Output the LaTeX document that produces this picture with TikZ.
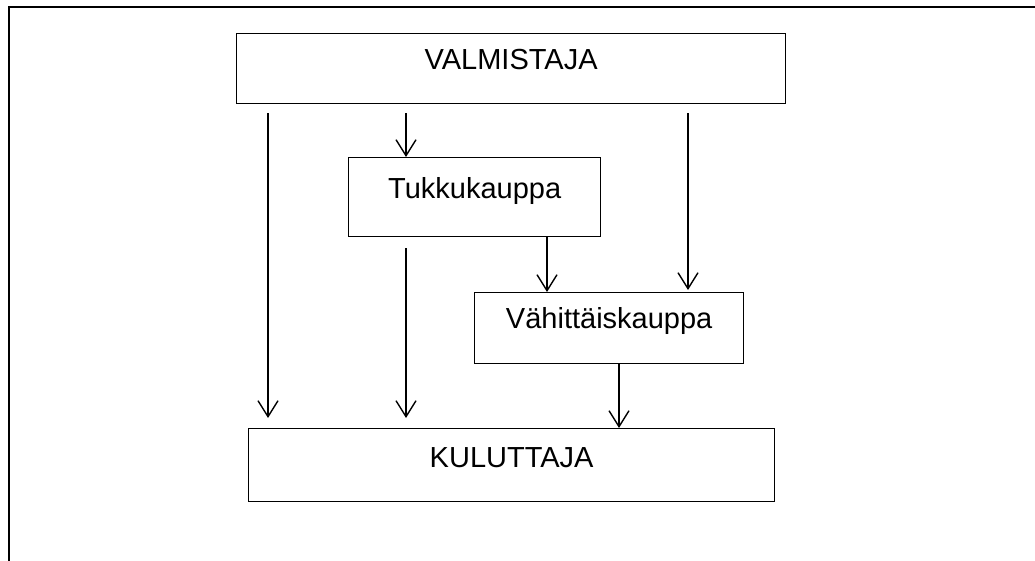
\documentclass[tikz,border=0pt]{standalone}
\usepackage{fontspec}
\setmainfont{Liberation Sans}
\usetikzlibrary{arrows.meta}
\begin{document}
\begin{tikzpicture}[x=1pt,y=-1pt,
  box/.style={draw, line width=1.3pt, inner sep=0pt, anchor=north west},
  lbl/.style={anchor=base, font=\fontsize{29}{34}\selectfont, inner sep=0pt},
  arr/.style={line width=1.4pt, -{Straight Barb[length=16pt,width=20pt,line width=1.4pt]}},
  framestyle/.style={line width=1.3pt}]
\useasboundingbox (0,0) rectangle (1035,561);
\draw[framestyle] (9,561) -- (9,7) -- (1035,7);
\node[box, minimum width=549pt, minimum height=70pt] (valm) at (236,33) {};
\node[box, minimum width=252pt, minimum height=79pt] (tukku) at (348,157) {};
\node[box, minimum width=269pt, minimum height=71pt] (vah) at (474,292) {};
\node[box, minimum width=526pt, minimum height=73pt] (kul) at (248,428) {};
\node[lbl] (tvalm) at ([yshift=-37pt]valm.north) {VALMISTAJA};
\node[lbl] (ttukku) at ([yshift=-42pt]tukku.north) {Tukkukauppa};
\node[lbl] (tvah) at ([yshift=-36pt]vah.north) {Vähittäiskauppa};
\node[lbl] (tkul) at ([yshift=-39pt]kul.north) {KULUTTAJA};
\coordinate (c1) at (268,0);
\coordinate (c2) at (406,0);
\coordinate (c3) at (688,0);
\coordinate (c4) at (547,0);
\coordinate (c5) at (619,0);
\draw[arr] ([yshift=-9pt]valm.south -| c1) -- ([yshift=10pt]kul.north -| c1);
\draw[arr] ([yshift=-9pt]valm.south -| c2) -- (tukku.north -| c2);
\draw[arr] ([yshift=-11pt]tukku.south -| c2) -- ([yshift=10pt]kul.north -| c2);
\draw[arr] (tukku.south -| c4) -- (vah.north -| c4);
\draw[arr] ([yshift=-9pt]valm.south -| c3) -- ([yshift=2pt]vah.north -| c3);
\draw[arr] (vah.south -| c5) -- (kul.north -| c5);
\end{tikzpicture}
\end{document}
